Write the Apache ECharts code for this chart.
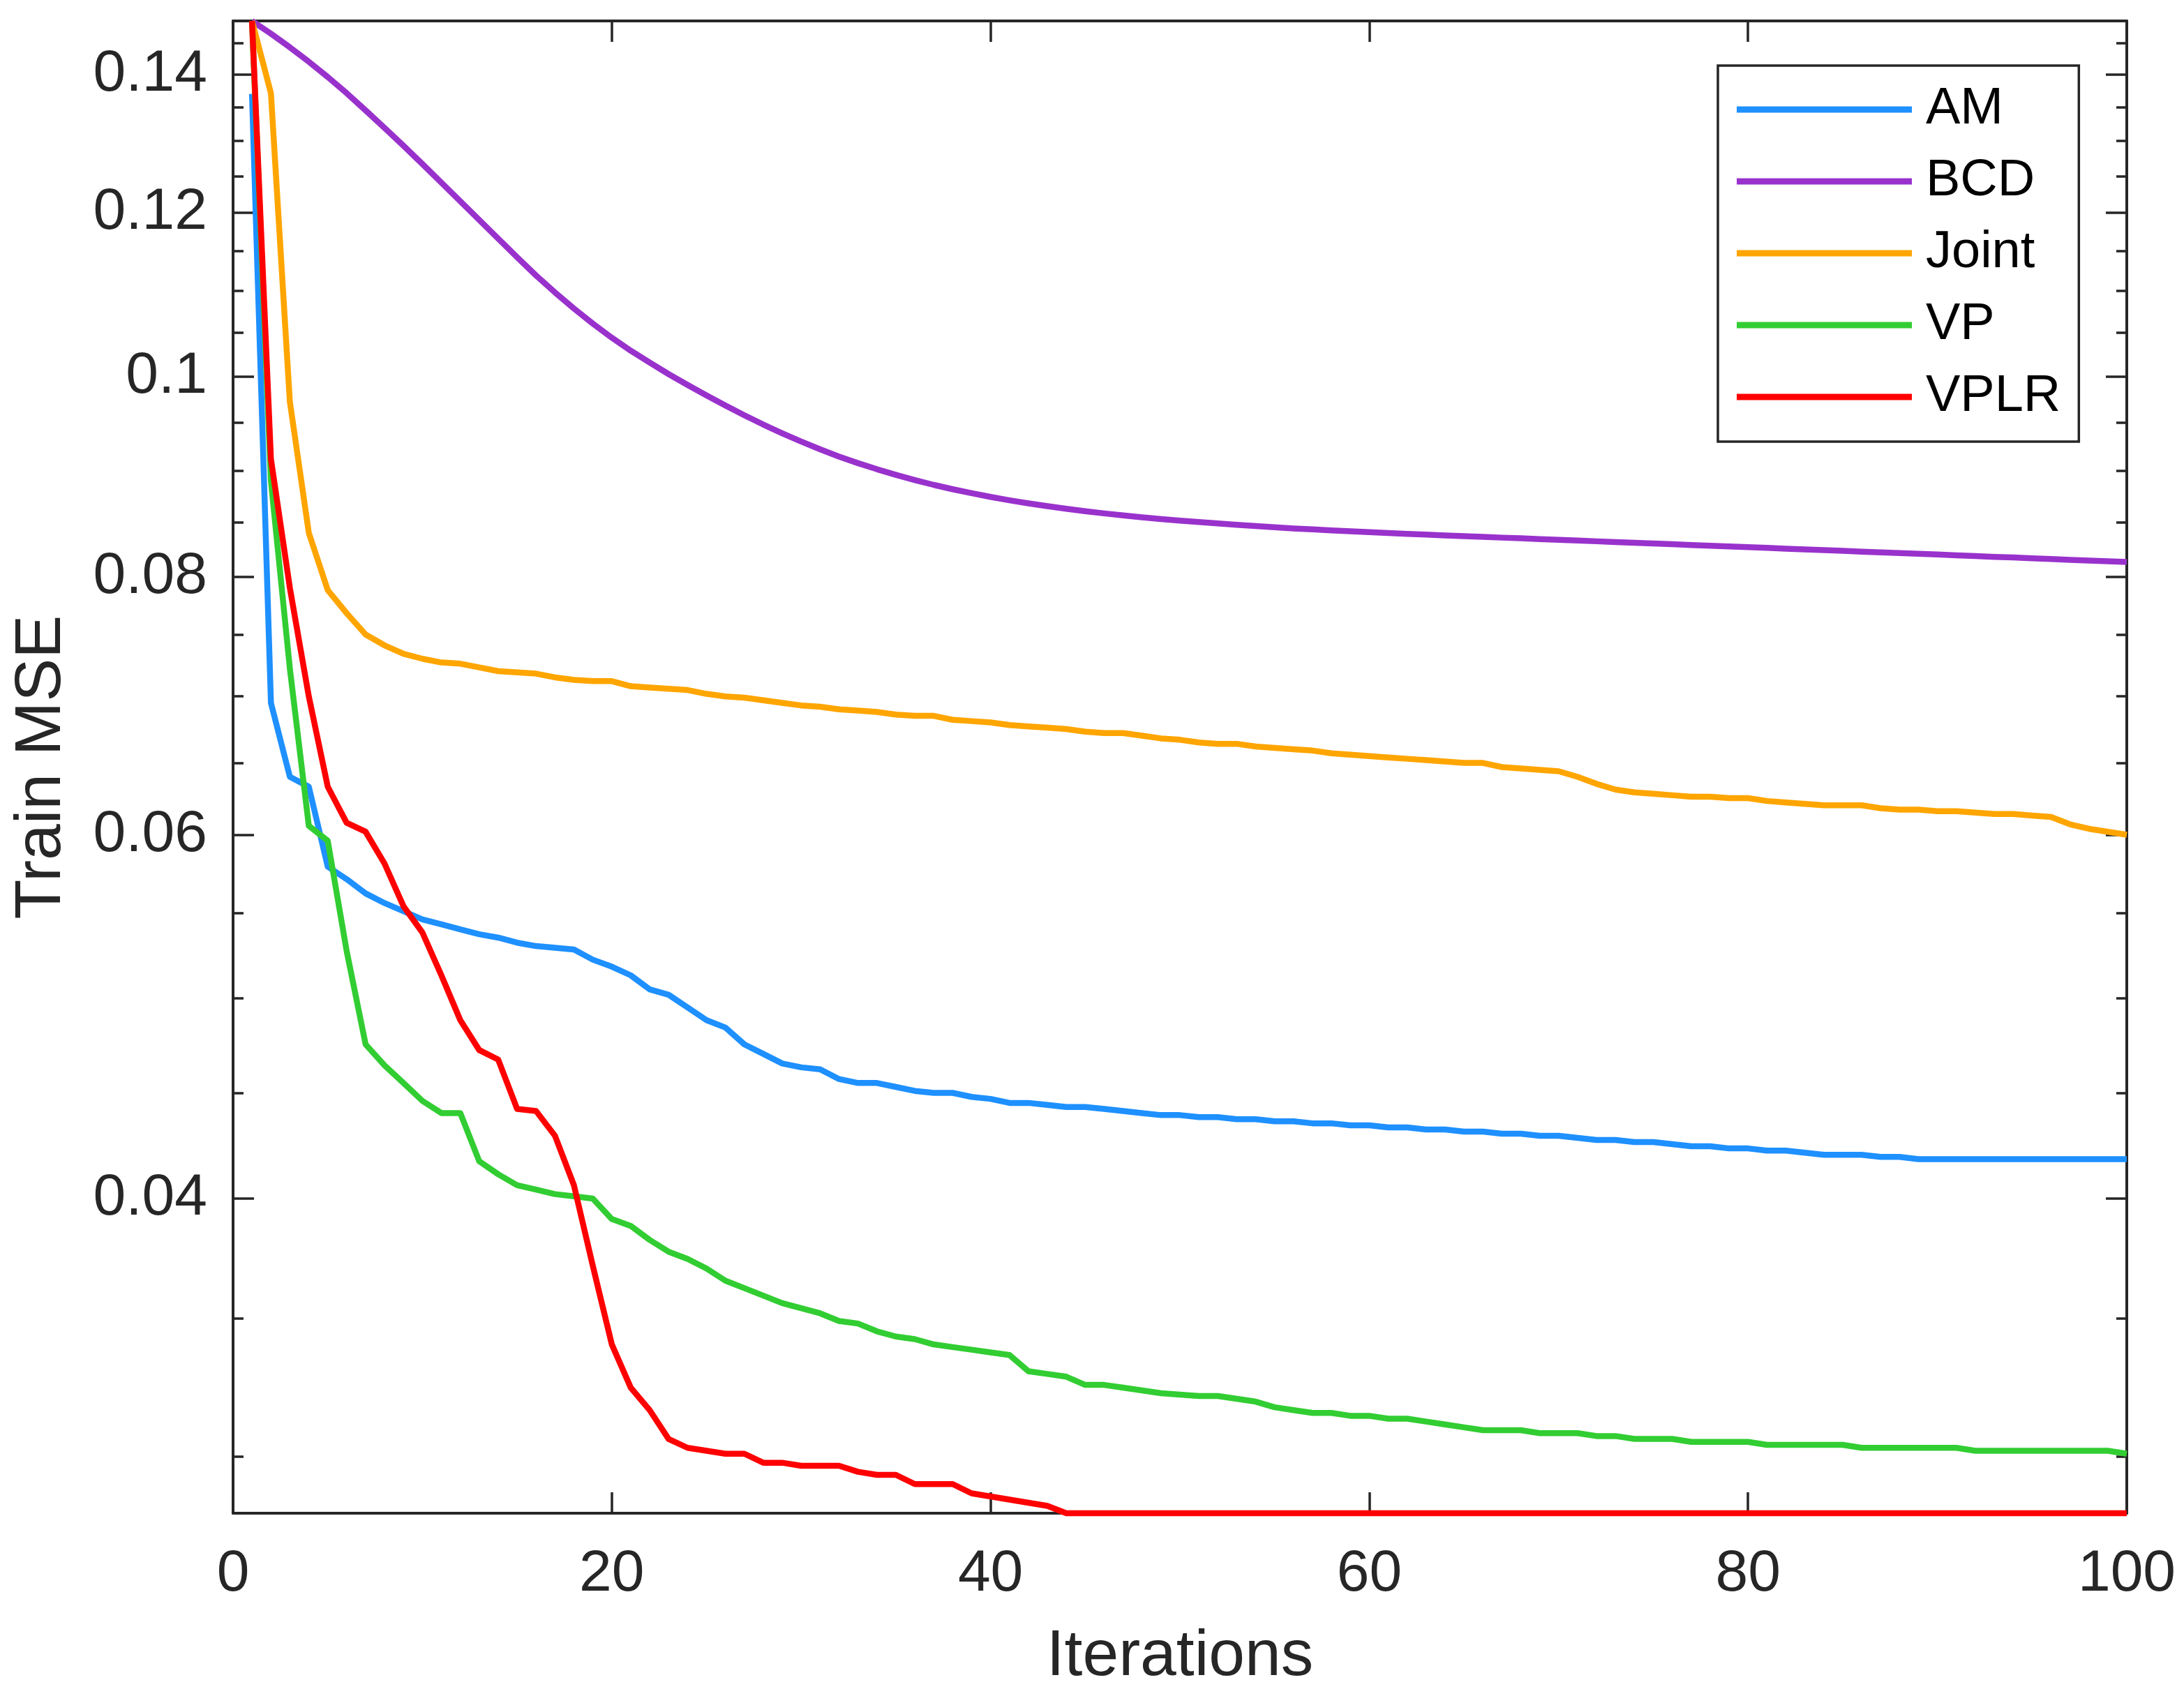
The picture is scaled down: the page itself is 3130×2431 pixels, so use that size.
<!DOCTYPE html>
<html>
<head>
<meta charset="utf-8">
<title>Train MSE</title>
<script src="https://cdn.jsdelivr.net/npm/echarts@6/dist/echarts.min.js"></script>
<style>
html, body { margin: 0; padding: 0; background: #fff; }
#chart { width: 3130px; height: 2431px; }
</style>
</head>
<body>
<div id="chart"></div>
<script>
// method names and line colours
var names = ['AM', 'BCD', 'Joint', 'VP', 'VPLR'];
var colors = ['#1E90FF', '#9932CC', '#FFA500', '#32CD32', '#FF0000'];

// train MSE per iteration (1..100)
var am = [
  0.137, 0.0695, 0.0640, 0.0633, 0.0579, 0.0571, 0.0562, 0.0556, 0.0551, 0.0546,
  0.0543, 0.0540, 0.0537, 0.0535, 0.0532, 0.0530, 0.0529, 0.0528, 0.0522, 0.0518,
  0.0513, 0.0505, 0.0502, 0.0495, 0.0488, 0.0484, 0.0475, 0.0470, 0.0465, 0.0463,
  0.0462, 0.0457, 0.0455, 0.0455, 0.0453, 0.0451, 0.0450, 0.0450, 0.0448, 0.0447,
  0.0445, 0.0445, 0.0444, 0.0443, 0.0443, 0.0442, 0.0441, 0.0440, 0.0439, 0.0439,
  0.0438, 0.0438, 0.0437, 0.0437, 0.0436, 0.0436, 0.0435, 0.0435, 0.0434, 0.0434,
  0.0433, 0.0433, 0.0432, 0.0432, 0.0431, 0.0431, 0.0430, 0.0430, 0.0429, 0.0429,
  0.0428, 0.0427, 0.0427, 0.0426, 0.0426, 0.0425, 0.0424, 0.0424, 0.0423, 0.0423,
  0.0422, 0.0422, 0.0421, 0.0420, 0.0420, 0.0420, 0.0419, 0.0419, 0.0418, 0.0418,
  0.0418, 0.0418, 0.0418, 0.0418, 0.0418, 0.0418, 0.0418, 0.0418, 0.0418, 0.0418
];
var bcd = [
  0.1486, 0.1465, 0.1443, 0.1420, 0.1396, 0.1371, 0.1345, 0.1319, 0.1293, 0.1267,
  0.1241, 0.12155, 0.11905, 0.1166, 0.1142, 0.1119, 0.1098, 0.10785, 0.10605, 0.1044,
  0.1029, 0.10155, 0.10025, 0.09905, 0.0979, 0.0968, 0.09576, 0.09477, 0.09385, 0.09299,
  0.09219, 0.09145, 0.09078, 0.09017, 0.08961, 0.08909, 0.08861, 0.08818, 0.08779, 0.08743,
  0.08710, 0.08680, 0.08653, 0.08628, 0.08605, 0.08584, 0.08565, 0.08547, 0.08530, 0.08515,
  0.08501, 0.08488, 0.08475, 0.08463, 0.08452, 0.08441, 0.08432, 0.08423, 0.08414, 0.08406,
  0.08398, 0.08390, 0.08383, 0.08376, 0.08369, 0.08362, 0.08355, 0.08349, 0.08342, 0.08335,
  0.08328, 0.08321, 0.08314, 0.08308, 0.08301, 0.08294, 0.08287, 0.08280, 0.08274, 0.08267,
  0.08260, 0.08253, 0.08246, 0.08240, 0.08233, 0.08226, 0.08219, 0.08212, 0.08206, 0.08199,
  0.08192, 0.08185, 0.08178, 0.08172, 0.08165, 0.08158, 0.08151, 0.08144, 0.08138, 0.08131
];
var joint = [
  0.1486, 0.1371, 0.0972, 0.0840, 0.0788, 0.0768, 0.0750, 0.0741, 0.0734, 0.0730,
  0.0727, 0.0726, 0.0723, 0.0720, 0.0719, 0.0718, 0.0715, 0.0713, 0.0712, 0.0712,
  0.0708, 0.0707, 0.0706, 0.0705, 0.0702, 0.0700, 0.0699, 0.0697, 0.0695, 0.0693,
  0.0692, 0.0690, 0.0689, 0.0688, 0.0686, 0.0685, 0.0685, 0.0682, 0.0681, 0.0680,
  0.0678, 0.0677, 0.0676, 0.0675, 0.0673, 0.0672, 0.0672, 0.0670, 0.0668, 0.0667,
  0.0665, 0.0664, 0.0664, 0.0662, 0.0661, 0.0660, 0.0659, 0.0657, 0.0656, 0.0655,
  0.0654, 0.0653, 0.0652, 0.0651, 0.0650, 0.0650, 0.0647, 0.0646, 0.0645, 0.0644,
  0.0640, 0.0635, 0.0631, 0.0629, 0.0628, 0.0627, 0.0626, 0.0626, 0.0625, 0.0625,
  0.0623, 0.0622, 0.0621, 0.0620, 0.0620, 0.0620, 0.0618, 0.0617, 0.0617, 0.0616,
  0.0616, 0.0615, 0.0614, 0.0614, 0.0613, 0.0612, 0.0607, 0.0604, 0.0602, 0.0600
];
var vp = [
  0.1486, 0.0890, 0.0722, 0.0606, 0.0596, 0.0527, 0.0475, 0.0464, 0.0455, 0.0446,
  0.0440, 0.0440, 0.0417, 0.0411, 0.0406, 0.0404, 0.0402, 0.0401, 0.0400, 0.0391,
  0.0388, 0.0382, 0.0377, 0.0374, 0.0370, 0.0365, 0.0362, 0.0359, 0.0356, 0.0354,
  0.0352, 0.0349, 0.0348, 0.0345, 0.0343, 0.0342, 0.0340, 0.0339, 0.0338, 0.0337,
  0.0336, 0.0330, 0.0329, 0.0328, 0.0325, 0.0325, 0.0324, 0.0323, 0.0322, 0.03215,
  0.0321, 0.0321, 0.0320, 0.0319, 0.0317, 0.0316, 0.0315, 0.0315, 0.0314, 0.0314,
  0.0313, 0.0313, 0.0312, 0.0311, 0.0310, 0.0309, 0.0309, 0.0309, 0.0308, 0.0308,
  0.0308, 0.0307, 0.0307, 0.0306, 0.0306, 0.0306, 0.0305, 0.0305, 0.0305, 0.0305,
  0.0304, 0.0304, 0.0304, 0.0304, 0.0304, 0.0303, 0.0303, 0.0303, 0.0303, 0.0303,
  0.0303, 0.0302, 0.0302, 0.0302, 0.0302, 0.0302, 0.0302, 0.0302, 0.0302, 0.0301
];
var vplr = [
  0.1486, 0.0912, 0.0790, 0.0700, 0.0633, 0.0608, 0.0602, 0.0581, 0.0554, 0.0538,
  0.0513, 0.0488, 0.0472, 0.0467, 0.0442, 0.0441, 0.0429, 0.0406, 0.0371, 0.0340,
  0.0324, 0.0316, 0.0306, 0.0303, 0.0302, 0.0301, 0.0301, 0.0298, 0.0298, 0.0297,
  0.0297, 0.0297, 0.0295, 0.0294, 0.0294, 0.0291, 0.0291, 0.0291, 0.0288, 0.0287,
  0.0286, 0.0285, 0.0284, 0.02817, 0.02817, 0.02817, 0.02817, 0.02817, 0.02817, 0.02817,
  0.02817, 0.02817, 0.02817, 0.02817, 0.02817, 0.02817, 0.02817, 0.02817, 0.02817, 0.02817,
  0.02817, 0.02817, 0.02817, 0.02817, 0.02817, 0.02817, 0.02817, 0.02817, 0.02817, 0.02817,
  0.02817, 0.02817, 0.02817, 0.02817, 0.02817, 0.02817, 0.02817, 0.02817, 0.02817, 0.02817,
  0.02817, 0.02817, 0.02817, 0.02817, 0.02817, 0.02817, 0.02817, 0.02817, 0.02817, 0.02817,
  0.02817, 0.02817, 0.02817, 0.02817, 0.02817, 0.02817, 0.02817, 0.02817, 0.02817, 0.02817
];

// axis limits and tick positions (y is logarithmic)
var yMin = 0.02817, yMax = 0.1486;
var yMajor = [0.04, 0.06, 0.08, 0.1, 0.12, 0.14];
var yMinor = [0.03, 0.035, 0.045, 0.05, 0.055, 0.065, 0.07, 0.075, 0.085, 0.09, 0.095,
              0.105, 0.11, 0.115, 0.125, 0.13, 0.135, 0.145];

var font = "'Liberation Sans', Arial, sans-serif";
var ink = '#262626';

var allData = [am, bcd, joint, vp, vplr];
var log10 = function (v) { return Math.log10(v); };

// one y axis per side and tick length (major / minor ticks)
var makeY = function (pos, ticks, len, showLabel, showLine) {
    return {
        type: 'value',
        position: pos,
        min: log10(yMin),
        max: log10(yMax),
        axisLine: { show: showLine, lineStyle: { color: ink, width: 4 } },
        axisTick: {
            show: true, inside: true, length: len,
            customValues: ticks.map(log10),
            lineStyle: { color: ink, width: 3.5 }
        },
        axisLabel: showLabel ? {
            show: true,
            customValues: yMajor.map(log10),
            formatter: function (v) { return String(+Math.pow(10, v).toFixed(3)); },
            margin: 37,
            fontSize: 84,
            fontFamily: font,
            color: ink
        } : { show: false },
        splitLine: { show: false }
    };
};

var yAxes = [
    makeY('left', yMajor, 30, true, true),
    makeY('left', yMinor, 15, false, false),
    makeY('right', yMajor, 30, false, true),
    makeY('right', yMinor, 15, false, false)
];
yAxes[0].name = 'Train MSE';
yAxes[0].nameLocation = 'middle';
yAxes[0].nameRotate = 90;
yAxes[0].nameGap = 227;
yAxes[0].nameTextStyle = { fontSize: 93, fontFamily: font, color: ink };

var chart = echarts.init(document.getElementById('chart'));

var option = {
    animation: false,
    backgroundColor: '#fff',
    grid: { left: 334, right: 82, top: 30, bottom: 262, containLabel: false },
    legend: {
        orient: 'vertical',
        left: 2462,
        top: 94,
        padding: [23, 26, 24, 27],
        backgroundColor: '#fff',
        borderColor: ink,
        borderWidth: 3.5,
        borderRadius: 0,
        icon: 'rect',
        itemWidth: 251,
        itemHeight: 9,
        itemGap: 23,
        selectedMode: false,
        // top padding pushes the text a little below the line sample, as in the figure
        textStyle: { fontSize: 74, lineHeight: 62, fontFamily: font, color: '#000', padding: [18, 0, 0, 15] },
        data: names
    },
    xAxis: [
        {
            type: 'value', position: 'bottom', min: 0, max: 100, interval: 20,
            name: 'Iterations', nameLocation: 'middle', nameGap: 160,
            nameTextStyle: { fontSize: 93, fontFamily: font, color: ink },
            axisLine: { show: true, lineStyle: { color: ink, width: 4 } },
            axisTick: { show: true, inside: true, length: 30, lineStyle: { color: ink, width: 3.5 } },
            axisLabel: { margin: 46, fontSize: 84, fontFamily: font, color: ink },
            splitLine: { show: false }
        },
        {
            type: 'value', position: 'top', min: 0, max: 100, interval: 20,
            axisLine: { show: true, lineStyle: { color: ink, width: 4 } },
            axisTick: { show: true, inside: true, length: 30, lineStyle: { color: ink, width: 3.5 } },
            axisLabel: { show: false },
            splitLine: { show: false }
        }
    ],
    yAxis: yAxes,
    series: names.map(function (n, k) {
        return {
            name: n,
            type: 'line',
            xAxisIndex: 0,
            yAxisIndex: 0,
            symbol: 'none',
            clip: false,
            color: colors[k],
            lineStyle: { color: colors[k], width: 8.5, join: 'round' },
            data: allData[k].map(function (v, i) { return [i + 1, log10(v)]; })
        };
    })
};

chart.setOption(option);
</script>
</body>
</html>
